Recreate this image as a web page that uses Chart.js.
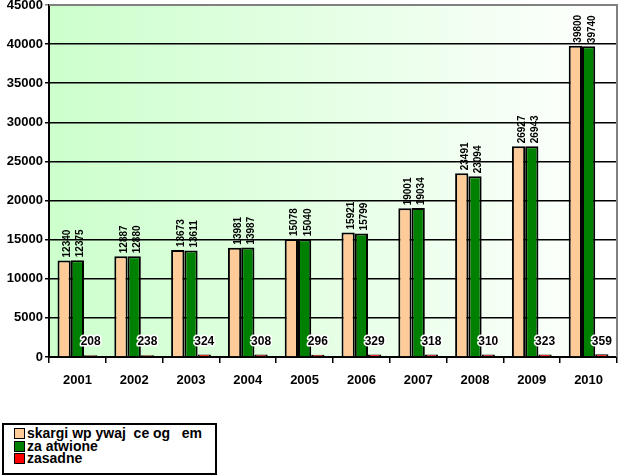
<!DOCTYPE html>
<html>
<head>
<meta charset="utf-8">
<script src="https://cdn.jsdelivr.net/npm/chart.js@4"></script>
<style>
  body { margin: 0; background: #fff; font-family: "Liberation Sans", Arial, sans-serif; }
  #wrap { position: absolute; left: 0; top: 0; width: 619px; height: 395px; }
  #legend { position: absolute; left: 2px; top: 423px; width: 211px; height: 46px; border: 2px solid #000; padding-top: 2px; }
  .item { height: 12.5px; line-height: 12.5px; font-size: 14px; font-weight: bold; color: #000; padding-left: 10px; white-space: pre; }
  .box { display: inline-block; width: 9px; height: 9px; border: 1px solid #000; margin-right: 2px; vertical-align: -1px; }
</style>
</head>
<body>
<div id="wrap"><canvas id="chart"></canvas></div>
<div id="legend"></div>
<script>
// data
var years = ['2001', '2002', '2003', '2004', '2005', '2006', '2007', '2008', '2009', '2010'];
var received = [12340, 12887, 13673, 13981, 15078, 15921, 19001, 23491, 26927, 39800];
var handled = [12375, 12880, 13611, 13987, 15040, 15799, 19034, 23094, 26943, 39740];
var justified = [208, 238, 324, 308, 296, 329, 318, 310, 323, 359];
var seriesNames = ['skargi wp ywaj  ce og   em', 'za atwione', 'zasadne'];
var colors = ['#ffcc99', '#008000', '#ff0000'];

// green-to-white background of the plot area
var bgPlugin = {
    id: 'bg',
    beforeDraw: function(chart) {
        var a = chart.chartArea, ctx = chart.ctx;
        var g = ctx.createLinearGradient(a.left, 0, a.right, 0);
        g.addColorStop(0, '#ccffcc');
        g.addColorStop(1, '#ffffff');
        ctx.save();
        ctx.fillStyle = g;
        ctx.fillRect(a.left, a.top, a.right - a.left, a.bottom - a.top);
        ctx.restore();
    },
    afterDraw: function(chart) {
        var a = chart.chartArea, ctx = chart.ctx;
        ctx.save();
        ctx.strokeStyle = '#808080';
        ctx.lineWidth = 2;
        ctx.beginPath();
        ctx.moveTo(a.left, a.top);
        ctx.lineTo(a.right, a.top);
        ctx.lineTo(a.right, a.bottom);
        ctx.stroke();
        ctx.restore();
    }
};

// value labels
var labelPlugin = {
    id: 'vals',
    afterDatasetsDraw: function(chart) {
        var ctx = chart.ctx;
        ctx.save();
        [0, 1].forEach(function(d) {
            chart.getDatasetMeta(d).data.forEach(function(bar, i) {
                ctx.save();
                ctx.translate(bar.x + 6, bar.y - 3);
                ctx.rotate(-Math.PI / 2);
                ctx.font = 'bold 10px "Liberation Sans Narrow", "Liberation Sans", Arial';
                ctx.fillStyle = '#000';
                ctx.textAlign = 'left';
                ctx.fillText(chart.data.datasets[d].data[i], 0, 0);
                ctx.restore();
            });
        });
        chart.getDatasetMeta(2).data.forEach(function(bar, i) {
            ctx.font = 'bold 12px "Liberation Sans", Arial';
            ctx.textAlign = 'center';
            ctx.textBaseline = 'alphabetic';
            ctx.lineWidth = 3;
            ctx.strokeStyle = '#fff';
            ctx.lineJoin = 'round';
            var t = String(chart.data.datasets[2].data[i]);
            ctx.strokeText(t, bar.x, 345);
            ctx.fillStyle = '#000';
            ctx.fillText(t, bar.x, 345);
        });
        ctx.restore();
    }
};

var ctx = document.getElementById('chart').getContext('2d');
var myChart = new Chart(ctx, {
    type: 'bar',
    data: {
        labels: years,
        datasets: [{
            label: seriesNames[0],
            data: received,
            backgroundColor: colors[0]
        }, {
            label: seriesNames[1],
            data: handled,
            backgroundColor: colors[1]
        }, {
            label: seriesNames[2],
            data: justified,
            backgroundColor: colors[2]
        }]
    },
    options: {
        responsive: true,
        maintainAspectRatio: false,
        animation: false,
        layout: { padding: { top: 5, right: 2, left: 0, bottom: 0 } },
        datasets: {
            bar: {
                borderColor: '#000',
                borderWidth: 2,
                categoryPercentage: 0.7,
                barPercentage: 1
            }
        },
        plugins: {
            legend: { display: false },
            tooltip: { enabled: false }
        },
        scales: {
            x: {
                grid: { drawOnChartArea: false, color: '#000', tickLength: 6, lineWidth: 1.5 },
                border: { color: '#000', width: 2 },
                ticks: { color: '#000', font: { family: '"Liberation Sans", Arial', size: 13, weight: 'bold' }, padding: 10 },
                afterFit: function(s) { s.height = 38; }
            },
            y: {
                min: 0,
                max: 45000,
                grid: {
                    color: function(c) { return c.tick && c.tick.value === 45000 ? '#808080' : '#000'; },
                    lineWidth: 1.5,
                    tickLength: 4
                },
                border: { color: '#000', width: 2 },
                ticks: {
                    stepSize: 5000,
                    color: '#000',
                    font: { family: '"Liberation Sans", Arial', size: 13, weight: 'bold' },
                    padding: 2,
                    callback: function(v) { return String(v); }
                },
                afterFit: function(s) { s.width = 49; s.paddingTop = 0; }
            }
        }
    },
    plugins: [bgPlugin, labelPlugin]
});

// legend box
var leg = document.getElementById('legend');
seriesNames.forEach(function(n, i) {
    var row = document.createElement('div');
    row.className = 'item';
    row.innerHTML = '<span class="box" style="background:' + colors[i] + '"></span>' + n;
    leg.appendChild(row);
});
</script>
</body>
</html>
